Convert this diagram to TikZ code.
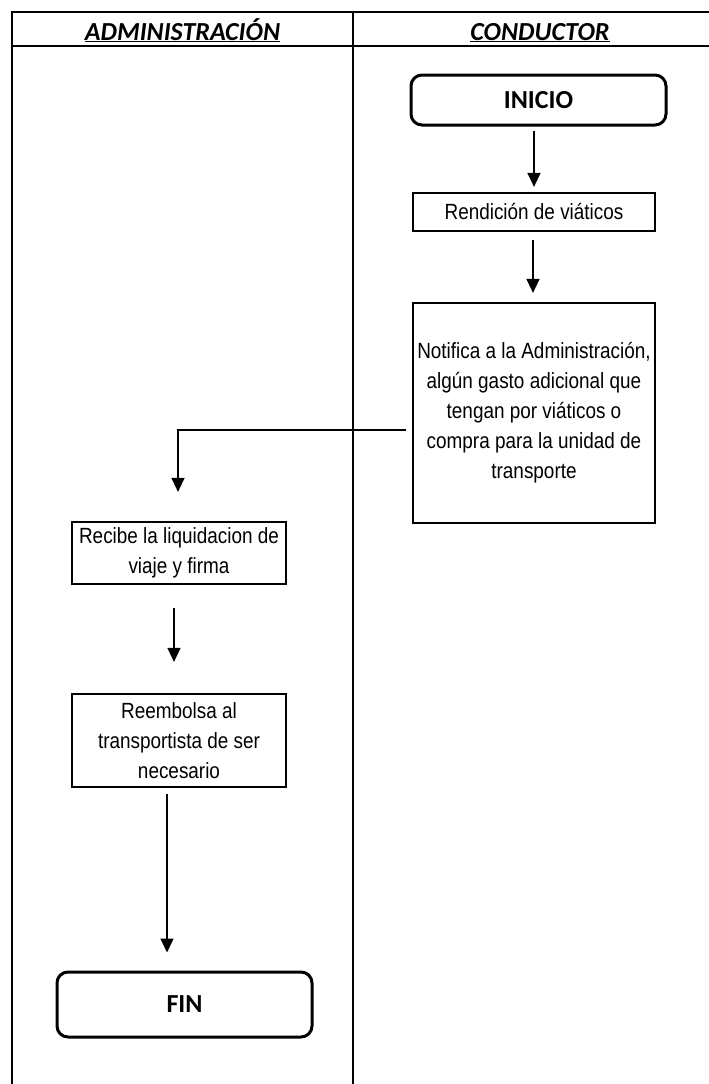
\documentclass[tikz,border=0pt]{standalone}
\usepackage{fontspec}
\setmainfont{Liberation Sans}[FakeStretch=0.86]
\newfontfamily\calfont{Carlito}
\usetikzlibrary{arrows.meta}
\begin{document}
\begin{tikzpicture}[x=1pt,y=-1pt,
  frame/.style={line width=1.6pt},
  task/.style={draw,line width=2.2pt,align=center,inner sep=0pt,font=\fontsize{22}{30}\selectfont},
  term/.style={draw,line width=3pt,rounded corners=11pt,inner sep=0pt,font=\calfont\bfseries\fontsize{26}{30}\selectfont},
  flow/.style={line width=1.4pt,-{Triangle[length=14pt,width=13pt]}},
  lane/.style={anchor=base,inner sep=0pt,font=\calfont\bfseries\itshape\fontsize{26}{30}\selectfont}]
\useasboundingbox (0,0) rectangle (709,1084);
\draw[frame] (12,1084) -- (12,12) -- (709,12);
\draw[frame] (12,46) -- (709,46);
\draw[frame] (353,12) -- (353,1084);
\node[lane] (adm) at (182.5,40) {\underline{ADMINISTRACIÓN}};
\node[lane] (cond) at (540,40) {\underline{CONDUCTOR}};
\node[term,minimum width=255pt,minimum height=50pt] (inicio) at (538.5,100) {INICIO};
\node[task,minimum width=242pt,minimum height=38pt] (rend) at (534,212) {Rendición de viáticos};
\node[task,minimum width=242pt,minimum height=220pt] (notif) at (534,413) {Notifica a la Administración,\\algún gasto adicional que\\tengan por viáticos o\\compra para la unidad de\\transporte};
\node[task,minimum width=214pt,minimum height=62pt] (recibe) at (179,553) {Recibe la liquidacion de\\viaje y firma};
\node[task,minimum width=214pt,minimum height=93pt] (reemb) at (179,740.5) {Reembolsa al\\transportista de ser\\necesario};
\node[term,minimum width=255pt,minimum height=65pt] (fin) at (184.5,1004.5) {FIN};
\draw[flow,shorten <=4pt,shorten >=5pt] ([xshift=-4.5pt]inicio.south) -- (rend.north);
\draw[flow,shorten <=8pt,shorten >=9pt] ([xshift=-1pt]rend.south) -- ([xshift=-1pt]notif.north);
\draw[flow,shorten <=6pt,shorten >=29pt] ([yshift=-17pt]notif.west) -| ([xshift=-1pt]recibe.north);
\draw[flow,shorten <=23pt,shorten >=31pt] ([xshift=-5pt]recibe.south) -- ([xshift=-5pt]reemb.north);
\draw[flow,shorten <=6pt,shorten >=18pt] ([xshift=-12pt]reemb.south) -- ([xshift=-12pt]reemb.south |- fin.north);
\end{tikzpicture}
\end{document}
